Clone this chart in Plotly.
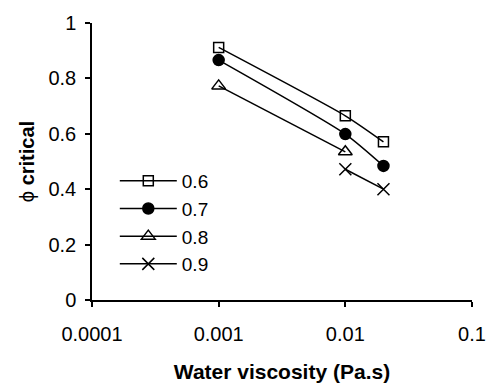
import plotly.graph_objects as go

series_names = ["0.6", "0.7", "0.8", "0.9"]
x_06 = [0.001, 0.01, 0.02]
y_06 = [0.912, 0.665, 0.571]
x_07 = [0.001, 0.01, 0.02]
y_07 = [0.866, 0.599, 0.484]
x_08 = [0.001, 0.01]
y_08 = [0.773, 0.535]
x_09 = [0.01, 0.02]
y_09 = [0.472, 0.400]

x_tickvals = [0.0001, 0.001, 0.01, 0.1]
x_ticktext = ["0.0001", "0.001", "0.01", "0.1"]
y_tickvals = [0, 0.2, 0.4, 0.6, 0.8, 1]
y_ticktext = ["0", "0.2", "0.4", "0.6", "0.8", "1"]

FONT = "Liberation Sans, Arial, sans-serif"

fig = go.Figure()
specs = [
    (x_06, y_06, "square-open", 10),
    (x_07, y_07, "circle", 11),
    (x_08, y_08, "triangle-up-open", 12),
    (x_09, y_09, "x-thin-open", 12),
]
for name, (xs, ys, sym, sz) in zip(series_names, specs):
    fig.add_trace(go.Scatter(
        x=xs, y=ys, name=name, mode="lines+markers",
        line=dict(color="black", width=1.5, shape="spline", smoothing=0.6),
        marker=dict(symbol=sym, size=sz, color="black",
                    line=dict(color="black", width=1.5)),
    ))

fig.update_layout(
    width=488, height=383,
    margin=dict(l=92, r=16, t=23, b=83, autoexpand=False),
    paper_bgcolor="white", plot_bgcolor="white",
    font=dict(family=FONT, size=20, color="black"),
    showlegend=True,
    legend=dict(
        x=0.06, y=0.4985, xanchor="left", yanchor="top",
        font=dict(size=19, family=FONT, color="black"),
        bgcolor="rgba(0,0,0,0)", itemwidth=57, tracegroupgap=0,
    ),
    xaxis=dict(
        type="log", range=[-4, -1], automargin=False,
        tickvals=x_tickvals, ticktext=x_ticktext,
        showgrid=False, zeroline=False,
        showline=True, linecolor="black", linewidth=1.5,
        ticks="outside", ticklen=5, tickcolor="black", tickwidth=1.5,
        tickfont=dict(size=20), ticklabelstandoff=10,
        title=dict(text="<b>Water viscosity (Pa.s)</b>", font=dict(size=21), standoff=22),
    ),
    yaxis=dict(
        range=[0, 1], automargin=False,
        tickvals=y_tickvals, ticktext=y_ticktext,
        showgrid=False, zeroline=False,
        showline=True, linecolor="black", linewidth=1.5,
        ticks="outside", ticklen=5, tickcolor="black", tickwidth=1.5,
        tickfont=dict(size=20), ticklabelstandoff=5,
        title=dict(text="\u03d5 <b>critical</b>", font=dict(size=20), standoff=8),
    ),
)

fig.write_html(
    "out.html",
    config={"displayModeBar": False},
    post_script="document.body.style.margin='0';document.body.style.overflow='hidden';",
)
